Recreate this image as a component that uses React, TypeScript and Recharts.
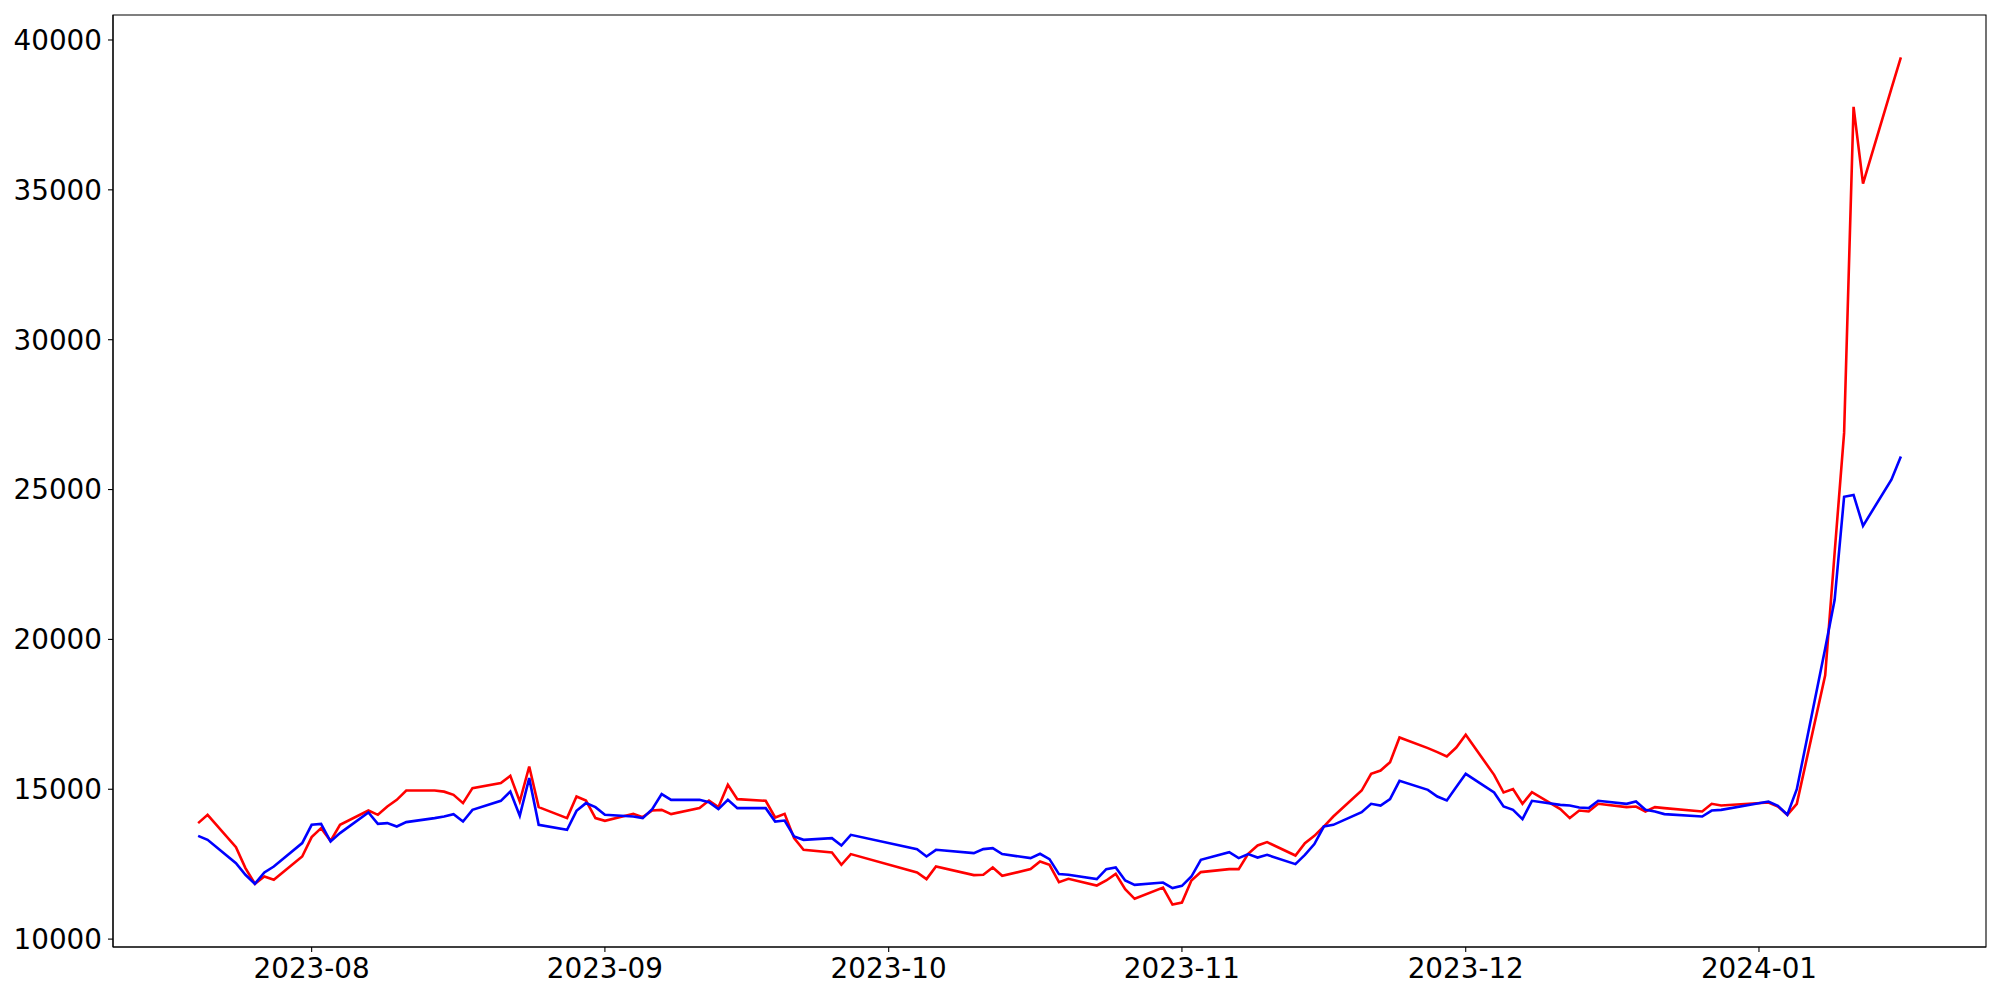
import React from 'react';
import { LineChart, Line, XAxis, YAxis, ReferenceArea } from 'recharts';

const dates = [
  '2023-07-20', '2023-07-21', '2023-07-24', '2023-07-25', '2023-07-26', '2023-07-27', '2023-07-28', '2023-07-31',
  '2023-08-01', '2023-08-02', '2023-08-03', '2023-08-04', '2023-08-07', '2023-08-08', '2023-08-09', '2023-08-10',
  '2023-08-11', '2023-08-14', '2023-08-15', '2023-08-16', '2023-08-17', '2023-08-18', '2023-08-21', '2023-08-22',
  '2023-08-23', '2023-08-24', '2023-08-25', '2023-08-28', '2023-08-29', '2023-08-30', '2023-08-31', '2023-09-01',
  '2023-09-04', '2023-09-05', '2023-09-06', '2023-09-07', '2023-09-08', '2023-09-11', '2023-09-12', '2023-09-13',
  '2023-09-14', '2023-09-15', '2023-09-18', '2023-09-19', '2023-09-20', '2023-09-21', '2023-09-22', '2023-09-25',
  '2023-09-26', '2023-09-27', '2023-10-04', '2023-10-05', '2023-10-06', '2023-10-10', '2023-10-11', '2023-10-12',
  '2023-10-13', '2023-10-16', '2023-10-17', '2023-10-18', '2023-10-19', '2023-10-20', '2023-10-23', '2023-10-24',
  '2023-10-25', '2023-10-26', '2023-10-27', '2023-10-30', '2023-10-31', '2023-11-01', '2023-11-02', '2023-11-03',
  '2023-11-06', '2023-11-07', '2023-11-08', '2023-11-09', '2023-11-10', '2023-11-13', '2023-11-14', '2023-11-15',
  '2023-11-16', '2023-11-17', '2023-11-20', '2023-11-21', '2023-11-22', '2023-11-23', '2023-11-24', '2023-11-27',
  '2023-11-28', '2023-11-29', '2023-11-30', '2023-12-01', '2023-12-04', '2023-12-05', '2023-12-06', '2023-12-07',
  '2023-12-08', '2023-12-11', '2023-12-12', '2023-12-13', '2023-12-14', '2023-12-15', '2023-12-18', '2023-12-19',
  '2023-12-20', '2023-12-21', '2023-12-22', '2023-12-26', '2023-12-27', '2023-12-28', '2024-01-02', '2024-01-03',
  '2024-01-04', '2024-01-05', '2024-01-08', '2024-01-09', '2024-01-10', '2024-01-11', '2024-01-12', '2024-01-15',
  '2024-01-16',
];

const redValues = [
  13870, 14147, 13069, 12369, 11845, 12088, 11978, 12756,
  13403, 13703, 13279, 13813, 14290, 14147, 14423, 14647,
  14957, 14957, 14920, 14814, 14537, 15037, 15204, 15448,
  14590, 15758, 14403, 14037, 14757, 14624, 14037, 13947,
  14180, 14070, 14290, 14313, 14170, 14370, 14624, 14403,
  15147, 14670, 14614, 14057, 14180, 13369, 12979, 12889,
  12479, 12836, 12222, 12002, 12422, 12135, 12145, 12389,
  12112, 12335, 12589, 12479, 11901, 12012, 11788, 11955,
  12178, 11668, 11344, 11721, 11150, 11221, 11955, 12235,
  12335, 12335, 12846, 13123, 13236, 12789, 13203, 13446,
  13756, 14090, 14957, 15514, 15625, 15905, 16726, 16372,
  16238, 16092, 16392, 16816, 15481, 14891, 15004, 14514,
  14904, 14337, 14037, 14290, 14257, 14514, 14403, 14424,
  14257, 14403, 14370, 14257, 14514, 14457, 14557, 14424,
  14147, 14514, 18800, 22900, 26890, 37770, 35210, 38380,
  39420,
];

const blueValues = [
  13446, 13312, 12535, 12145, 11845, 12222, 12422, 13203,
  13813, 13846, 13256, 13536, 14224, 13846, 13870, 13756,
  13903, 14037, 14090, 14170, 13923, 14313, 14614, 14924,
  14113, 15371, 13813, 13646, 14280, 14537, 14403, 14147,
  14090, 14037, 14337, 14837, 14647, 14647, 14570, 14337,
  14647, 14370, 14370, 13923, 13957, 13423, 13312, 13369,
  13123, 13479, 13002, 12756, 12979, 12869, 13002, 13036,
  12836, 12702, 12846, 12669, 12168, 12145, 12002, 12335,
  12389, 11955, 11811, 11888, 11701, 11778, 12088, 12645,
  12902, 12702, 12836, 12722, 12812, 12502, 12812, 13169,
  13756, 13813, 14237, 14514, 14457, 14670, 15281, 14981,
  14757, 14624, 15071, 15514, 14891, 14424, 14313, 14003,
  14614, 14480, 14457, 14390, 14370, 14614, 14514, 14590,
  14313, 14257, 14170, 14090, 14290, 14313, 14590, 14447,
  14147, 15000, 19700, 21320, 24760, 24820, 23790, 25330,
  26100,
];

const xTickLabels = ['2023-08', '2023-09', '2023-10', '2023-11', '2023-12', '2024-01'];
const yTickValues = [10000, 15000, 20000, 25000, 30000, 35000, 40000];

const toTime = (s: string) => Date.parse(s + 'T00:00:00Z');

const data = dates.map((d, i) => ({ t: toTime(d), red: redValues[i], blue: blueValues[i] }));
const xTicks = xTickLabels.map((s) => toTime(s + '-01'));

const tMin = Math.min(...data.map((d) => d.t));
const tMax = Math.max(...data.map((d) => d.t));
const tPad = (tMax - tMin) * 0.05;
const xDomain: [number, number] = [tMin - tPad, tMax + tPad];

const allVals = [...redValues, ...blueValues];
const vMin = Math.min(...allVals);
const vMax = Math.max(...allVals);
const vPad = (vMax - vMin) * 0.05;
const yDomain: [number, number] = [vMin - vPad, vMax + vPad];

const fmtMonth = (t: number) => {
  const d = new Date(t);
  const m = d.getUTCMonth() + 1;
  return `${d.getUTCFullYear()}-${m < 10 ? '0' + m : m}`;
};

const tickStyle = { fontSize: 27.8, fill: '#000', fontFamily: 'DejaVu Sans' };

export default function App() {
  return (
    <div style={{ position: 'absolute', left: 0, top: 0, width: 2000, height: 1000, background: '#fff' }}>
      <LineChart width={2000} height={1000} data={data} margin={{ top: 15, right: 14, bottom: 0, left: 0 }}>
        <XAxis
          dataKey="t"
          type="number"
          scale="time"
          domain={xDomain}
          ticks={xTicks}
          tickFormatter={fmtMonth}
          height={53}
          tick={tickStyle}
          tickSize={5}
          tickMargin={6}
          axisLine={{ stroke: '#000', strokeWidth: 1.1 }}
          tickLine={{ stroke: '#000', strokeWidth: 1.1 }}
          allowDataOverflow
        />
        <YAxis
          type="number"
          domain={yDomain}
          ticks={yTickValues}
          width={113}
          tick={tickStyle}
          tickSize={5}
          tickMargin={6}
          axisLine={{ stroke: '#000', strokeWidth: 1.1 }}
          tickLine={{ stroke: '#000', strokeWidth: 1.1 }}
          allowDataOverflow
        />
        <ReferenceArea
          x1={xDomain[0]}
          x2={xDomain[1]}
          y1={yDomain[0]}
          y2={yDomain[1]}
          fill="none"
          stroke="#000"
          strokeWidth={1.1}
          fillOpacity={0}
        />
        <Line type="linear" dataKey="red" stroke="#ff0000" strokeWidth={2.6} dot={false} isAnimationActive={false} />
        <Line type="linear" dataKey="blue" stroke="#0000ff" strokeWidth={2.6} dot={false} isAnimationActive={false} />
      </LineChart>
    </div>
  );
}
